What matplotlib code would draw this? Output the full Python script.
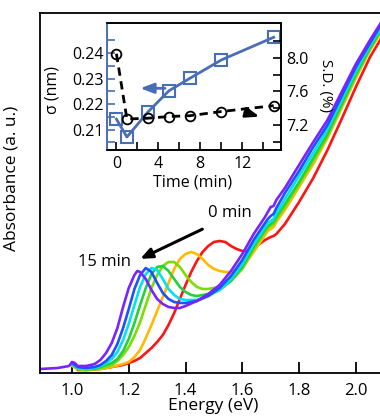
import matplotlib
matplotlib.use("Agg")
import matplotlib.pyplot as plt

plt.rcParams['font.family'] = ['Open Sans', 'DejaVu Sans']

# ---------------- main spectra (energy in eV, absorbance in a.u.) ----------------
E_purple = [0.89, 0.95, 0.99, 1.00, 1.01, 1.02, 1.05, 1.08, 1.10, 1.12, 1.14, 1.16, 1.18, 1.20, 1.22, 1.23,
            1.24, 1.26, 1.28, 1.30, 1.32, 1.34, 1.36, 1.38, 1.40, 1.44, 1.48, 1.52, 1.56, 1.60, 1.64, 1.68,
            1.69, 1.70, 1.71, 1.72, 1.75, 1.80, 1.85, 1.90, 1.95, 2.00, 2.05, 2.09]
A_purple = [0.04, 0.05, 0.07, 0.11, 0.10, 0.07, 0.07, 0.09, 0.13, 0.20, 0.30, 0.45, 0.66, 0.85, 0.98, 1.02,
            1.01, 0.94, 0.83, 0.74, 0.69, 0.66, 0.65, 0.65, 0.67, 0.72, 0.79, 0.88, 1.02, 1.19, 1.39, 1.56,
            1.61, 1.66, 1.67, 1.73, 1.85, 2.08, 2.31, 2.53, 2.81, 3.09, 3.33, 3.51]

E_blue = [1.00, 1.02, 1.05, 1.08, 1.10, 1.12, 1.14, 1.16, 1.18, 1.20, 1.22, 1.24, 1.26, 1.28, 1.30, 1.32,
          1.34, 1.36, 1.38, 1.40, 1.44, 1.48, 1.52, 1.56, 1.60, 1.64, 1.68, 1.69, 1.70, 1.71, 1.72, 1.75,
          1.80, 1.85, 1.90, 1.95, 2.00, 2.05, 2.09]
A_blue = [0.10, 0.06, 0.05, 0.06, 0.08, 0.12, 0.18, 0.29, 0.45, 0.64, 0.84, 0.98, 1.05, 1.01, 0.90, 0.80,
          0.74, 0.71, 0.70, 0.70, 0.72, 0.77, 0.85, 0.97, 1.13, 1.33, 1.50, 1.54, 1.57, 1.59, 1.65, 1.80,
          2.02, 2.26, 2.48, 2.77, 3.06, 3.30, 3.49]

E_cyan = [1.00, 1.02, 1.05, 1.08, 1.10, 1.12, 1.14, 1.16, 1.18, 1.20, 1.22, 1.24, 1.26, 1.28, 1.30, 1.32,
          1.34, 1.36, 1.38, 1.40, 1.42, 1.44, 1.48, 1.52, 1.56, 1.60, 1.64, 1.68, 1.69, 1.70, 1.71, 1.72,
          1.75, 1.80, 1.85, 1.90, 1.95, 2.00, 2.05, 2.09]
A_cyan = [0.09, 0.05, 0.04, 0.05, 0.07, 0.10, 0.14, 0.21, 0.33, 0.49, 0.68, 0.86, 0.99, 1.05, 1.03, 0.94,
          0.84, 0.78, 0.74, 0.73, 0.73, 0.73, 0.77, 0.83, 0.94, 1.09, 1.29, 1.46, 1.50, 1.52, 1.54, 1.60,
          1.74, 1.97, 2.20, 2.44, 2.73, 3.02, 3.28, 3.46]

E_green = [1.00, 1.02, 1.05, 1.08, 1.10, 1.12, 1.14, 1.16, 1.18, 1.20, 1.22, 1.24, 1.26, 1.28, 1.30, 1.32,
           1.34, 1.36, 1.38, 1.40, 1.42, 1.44, 1.48, 1.52, 1.56, 1.60, 1.64, 1.68, 1.69, 1.70, 1.71, 1.72,
           1.75, 1.80, 1.85, 1.90, 1.95, 2.00, 2.05, 2.09]
A_green = [0.09, 0.05, 0.04, 0.04, 0.06, 0.08, 0.10, 0.14, 0.22, 0.34, 0.50, 0.68, 0.85, 0.99, 1.06, 1.07,
           1.02, 0.94, 0.86, 0.81, 0.78, 0.77, 0.79, 0.83, 0.92, 1.06, 1.26, 1.43, 1.47, 1.49, 1.51, 1.56,
           1.69, 1.91, 2.15, 2.39, 2.69, 2.99, 3.25, 3.44]

E_lime = [1.00, 1.02, 1.05, 1.08, 1.10, 1.12, 1.14, 1.16, 1.18, 1.20, 1.22, 1.24, 1.26, 1.28, 1.30, 1.32,
          1.34, 1.36, 1.38, 1.40, 1.42, 1.44, 1.46, 1.48, 1.52, 1.56, 1.60, 1.64, 1.68, 1.69, 1.70, 1.71,
          1.72, 1.75, 1.80, 1.85, 1.90, 1.95, 2.00, 2.05, 2.09]
A_lime = [0.08, 0.04, 0.03, 0.04, 0.05, 0.06, 0.08, 0.12, 0.18, 0.26, 0.37, 0.51, 0.68, 0.85, 0.98, 1.07,
          1.11, 1.11, 1.06, 0.98, 0.91, 0.86, 0.84, 0.84, 0.86, 0.92, 1.04, 1.24, 1.41, 1.45, 1.47, 1.49,
          1.54, 1.66, 1.89, 2.12, 2.37, 2.67, 2.97, 3.24, 3.43]

E_orange = [1.00, 1.02, 1.05, 1.10, 1.14, 1.18, 1.20, 1.22, 1.24, 1.26, 1.28, 1.30, 1.32, 1.34, 1.36, 1.38,
            1.40, 1.42, 1.44, 1.46, 1.48, 1.50, 1.52, 1.54, 1.56, 1.60, 1.64, 1.68, 1.69, 1.70, 1.71, 1.72,
            1.75, 1.80, 1.85, 1.90, 1.95, 2.00, 2.05, 2.09]
A_orange = [0.07, 0.04, 0.03, 0.04, 0.06, 0.09, 0.11, 0.16, 0.23, 0.35, 0.48, 0.62, 0.76, 0.90, 1.04, 1.14,
            1.19, 1.21, 1.19, 1.14, 1.08, 1.04, 1.02, 1.01, 1.01, 1.05, 1.21, 1.38, 1.42, 1.44, 1.46, 1.51,
            1.63, 1.86, 2.09, 2.35, 2.65, 2.95, 3.23, 3.41]

E_red = [1.02, 1.05, 1.10, 1.14, 1.18, 1.20, 1.22, 1.24, 1.26, 1.28, 1.30, 1.32, 1.34, 1.36, 1.38, 1.40,
         1.42, 1.44, 1.46, 1.48, 1.50, 1.52, 1.54, 1.56, 1.58, 1.60, 1.62, 1.64, 1.66, 1.68, 1.70, 1.71,
         1.72, 1.75, 1.80, 1.85, 1.90, 1.95, 2.00, 2.05, 2.09]
A_red = [0.03, 0.03, 0.04, 0.06, 0.08, 0.10, 0.12, 0.15, 0.20, 0.25, 0.31, 0.38, 0.48, 0.60, 0.74, 0.88,
         1.01, 1.12, 1.21, 1.27, 1.31, 1.32, 1.31, 1.27, 1.24, 1.22, 1.22, 1.25, 1.29, 1.33, 1.36, 1.37,
         1.39, 1.49, 1.71, 1.95, 2.23, 2.54, 2.86, 3.16, 3.35]

series = [
    (E_red, A_red, '#FF1414'),
    (E_orange, A_orange, '#FFBA00'),
    (E_lime, A_lime, '#7ADF00'),
    (E_green, A_green, '#22D040'),
    (E_cyan, A_cyan, '#00E2F2'),
    (E_blue, A_blue, '#1F4FFF'),
    (E_purple, A_purple, '#7A22FF'),
]

energy_ticks = [1.0, 1.2, 1.4, 1.6, 1.8, 2.0]

# ---------------- inset data ----------------
times = [0, 1, 3, 5, 7, 10, 15]
sigma_nm = [0.2141, 0.2071, 0.2169, 0.2252, 0.2301, 0.2373, 0.2462]
sd_pct = [8.05, 7.27, 7.28, 7.30, 7.31, 7.36, 7.43]

fig = plt.figure(figsize=(3.8, 4.16), dpi=100)
ax = fig.add_axes([0.105, 0.1034, 0.895, 0.8654])

for E, A, c in series:
    ax.plot(E, A, color=c, lw=1.9, solid_joinstyle='round', solid_capstyle='round')

ax.set_xlim(0.887, 2.085)
ax.set_ylim(0, 3.6)
ax.set_xticks(energy_ticks)
ax.set_xticklabels(['%.1f' % v for v in energy_ticks])
ax.set_yticks([])
ax.spines['right'].set_visible(False)
for s in ['top', 'left', 'bottom']:
    ax.spines[s].set_linewidth(1.3)
ax.tick_params(axis='x', direction='in', length=8, width=1.3, labelsize=12, pad=7)
ax.set_xlabel('Energy (eV)', fontsize=12.5, labelpad=0)
ax.xaxis.set_label_coords(0.51, -0.07)
ax.set_ylabel('Absorbance (a. u.)', fontsize=12.5)
ax.yaxis.set_label_coords(-0.06, 0.54)

ax.annotate('', xy=(1.232, 1.13), xytext=(1.468, 1.45),
            arrowprops=dict(arrowstyle='-|>,head_length=0.7,head_width=0.3', color='black', lw=2.2))
ax.text(1.556, 1.60, '0 min', fontsize=12, ha='center', va='center')
ax.text(1.116, 1.11, '15 min', fontsize=12, ha='center', va='center')

# ---------------- inset ----------------
blue = '#4A6DB8'
axi = fig.add_axes([0.2816, 0.6394, 0.4579, 0.3053])
axi.plot(times, sigma_nm, color=blue, lw=2.0, marker='s', ms=9, mfc='none', mec=blue, mew=1.5, zorder=3)
axi.set_xlim(-0.9, 15.7)
axi.set_ylim(0.202, 0.2518)
axi.set_yticks([0.21, 0.22, 0.23, 0.24])
axi.set_yticklabels(['0.21', '0.22', '0.23', '0.24'])
axi.set_yticks([0.205, 0.215, 0.225, 0.235, 0.245], minor=True)
axi.set_xticks([0, 4, 8, 12])
axi.set_xticks([2, 6, 10, 14], minor=True)
axi.tick_params(axis='y', which='both', direction='in', colors=blue, labelcolor='black',
                labelsize=11.5, pad=2, width=1.2, length=6)
axi.tick_params(axis='x', which='both', direction='in', length=6, width=1.2, labelsize=11.5, pad=4)
for s in axi.spines.values():
    s.set_linewidth(1.2)
axi.spines['left'].set_color(blue)
axi.set_xlabel('Time (min)', fontsize=11.5, labelpad=0)
axi.xaxis.set_label_coords(0.494, -0.19)
axi.set_ylabel('σ (nm)', fontsize=11.5)
axi.yaxis.set_label_coords(-0.27, 0.47)
axi.annotate('', xy=(2.0, 0.2262), xytext=(4.9, 0.2262),
             arrowprops=dict(arrowstyle='-|>,head_length=0.8,head_width=0.3', color=blue, lw=2.0))

axr = axi.twinx()
axr.plot(times, sd_pct, color='black', lw=2.0, ls=(0, (3, 2)), marker='o', ms=7, mfc='none', mec='black',
         mew=1.3, zorder=3)
axr.set_ylim(6.90, 8.418)
axr.set_yticks([7.2, 7.6, 8.0])
axr.set_yticklabels(['7.2', '7.6', '8.0'])
axr.set_yticks([7.0, 7.4, 7.8, 8.2], minor=True)
axr.tick_params(axis='y', which='both', direction='in', length=6, width=1.2, labelsize=11.5, pad=4)
for s in axr.spines.values():
    s.set_linewidth(1.2)
axr.spines['left'].set_color(blue)
axr.set_ylabel('S.D. (%)', fontsize=11, rotation=270, va='center')
axr.yaxis.set_label_coords(1.255, 0.51)
axr.annotate('', xy=(13.9, 7.29), xytext=(12.0, 7.36),
             arrowprops=dict(arrowstyle='-|>,head_length=0.8,head_width=0.3', color='black', lw=2.0))

fig.savefig('out.png', dpi=100)
